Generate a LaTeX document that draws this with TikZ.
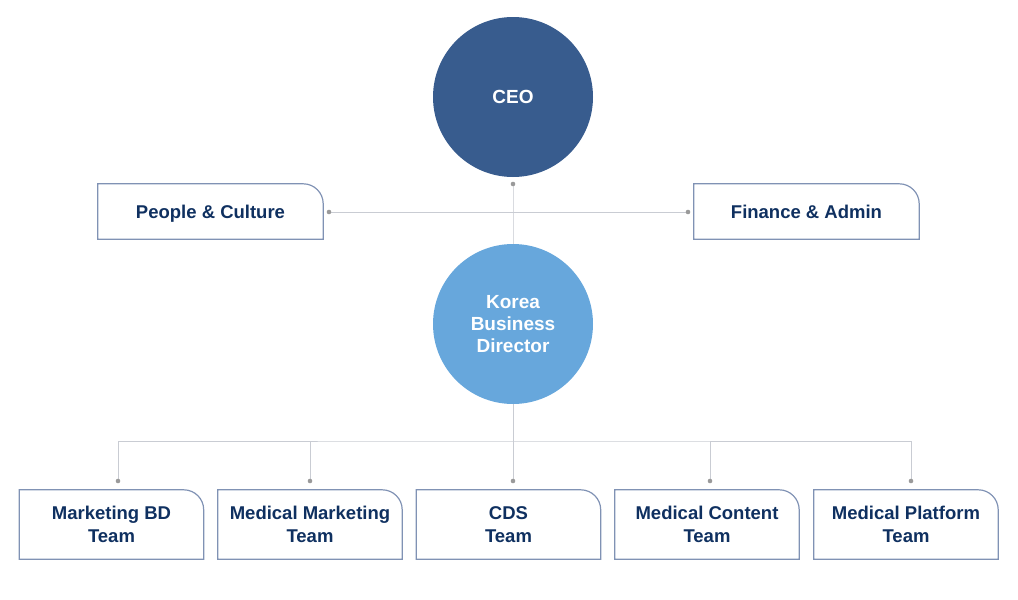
\documentclass[tikz,border=0pt]{standalone}
\usepackage{fontspec}
\setmainfont{Liberation Sans}
\usepackage{xcolor}
\definecolor{ceoblue}{HTML}{385C8E}
\definecolor{dirblue}{HTML}{67A7DC}
\definecolor{textnavy}{HTML}{0F3060}
\definecolor{boxedge}{HTML}{8092B4}
\definecolor{linkgrey}{HTML}{C9CCD3}
\definecolor{dotgrey}{HTML}{9A9A9A}
\usepackage{tikz}
\usetikzlibrary{positioning}

\begin{document}
\begin{tikzpicture}[
  x=1pt, y=-1pt,
  head/.style={
    circle, minimum size=160pt, inner sep=0pt,
    align=center, font=\bfseries\fontsize{19}{22}\selectfont, text=white
  },
  unit/.style={
    minimum width=225pt, minimum height=55pt, inner sep=0pt,
    align=center, font=\bfseries\fontsize{18.5}{23}\selectfont, text=textnavy
  },
  team/.style={
    unit, minimum width=184pt, minimum height=69pt
  },
  edge/.style={draw=boxedge, line width=1.2pt},
  link/.style={draw=linkgrey, line width=0.9pt},
  dot/.style={fill=dotgrey}
]
\useasboundingbox (0,0) rectangle (1018,600);

% ---- Direction ----
\node[head, fill=ceoblue] (ceo) at (513, 97) {CEO};
\node[head, fill=dirblue] (kbd) at (513, 324) {Korea\\Business\\Director};

% ---- Support ----
\node[unit, text depth=0pt] (pc) at (210.5, 211.5) {People \& Culture};
\node[unit] (fa) at (806.5, 211.5) {Finance \& Admin};

% ---- Teams ----
\node[team] (mbd) at (111.5, 524.5) {Marketing BD\\Team};
\node[team] (mm)  at (310, 524.5)   {Medical Marketing\\Team};
\node[team] (cds) at (508.5, 524.5) {CDS\\Team};
\node[team] (mc)  at (707, 524.5)   {Medical Content\\Team};
\node[team] (mp)  at (906, 524.5)   {Medical Platform\\Team};

% Contours (coin haut droit arrondi)
\foreach \n in {pc, fa, mbd, mm, cds, mc, mp}
  \draw[edge] (\n.south west) -- (\n.north west)
    -- ([xshift=-20pt]\n.north east) arc[start angle=90, end angle=0, radius=20pt]
    -- (\n.south east) -- cycle;

% Points de jonction
\coordinate (ceoDot) at (513, 184);
\coordinate (pcDot)  at (329, 212);
\coordinate (faDot)  at (688, 212);
\coordinate (bus)    at (513, 441);
\coordinate (mbdDot) at (118, 481);
\coordinate (mmDot)  at (310, 481);
\coordinate (cdsDot) at (513, 481);
\coordinate (mcDot)  at (710, 481);
\coordinate (mpDot)  at (911, 481);

% Liaisons
\draw[link, draw=linkgrey!70] (ceoDot) -- (kbd.north);
\draw[link] (pcDot) -- (faDot);
\draw[link] (kbd.south) -- (cdsDot);
\draw[link] (mbdDot) |- (bus) -| (mpDot);
\draw[link] (mmDot) -- (mmDot |- bus);
\draw[link] (mcDot) -- (mcDot |- bus);

\foreach \d in {ceoDot, pcDot, faDot, mbdDot, mmDot, cdsDot, mcDot, mpDot}
  \fill[dot] (\d) circle (2.3pt);

\end{tikzpicture}
\end{document}
